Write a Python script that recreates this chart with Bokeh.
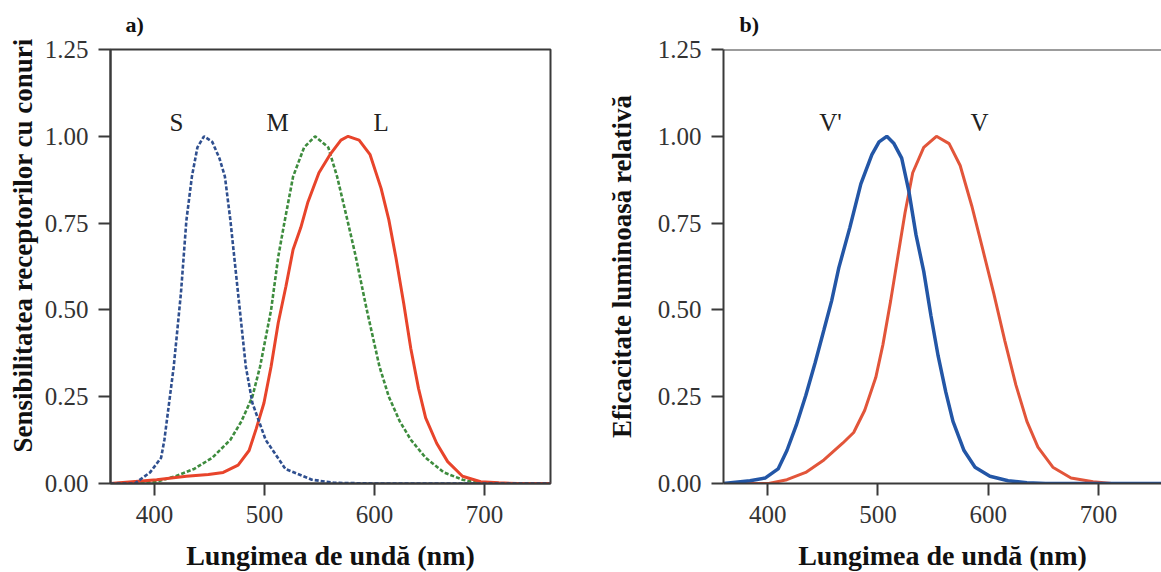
from bokeh.plotting import figure
from bokeh.layouts import row
from bokeh.models import Range1d, FixedTicker, Title, Span, ColumnDataSource
from bokeh.core.properties import value
from bokeh.embed import file_html
from bokeh.resources import INLINE

# ---------------- data ----------------
wl_ticks = [400, 500, 600, 700]
y_ticks = [0.0, 0.25, 0.5, 0.75, 1.0, 1.25]
y_tick_labels = ["0.00", "0.25", "0.50", "0.75", "1.00", "1.25"]

# panel a) cone sensitivities
s_nm = [360, 382, 396, 406, 409, 417.5, 424, 429, 434, 439, 445, 452.5, 459, 464, 469, 476, 483, 489, 501, 519, 543, 563, 600, 700, 760]
s_val = [0, 0, 0.032, 0.074, 0.126, 0.337, 0.547, 0.758, 0.884, 0.968, 1.0, 0.984, 0.937, 0.884, 0.758, 0.547, 0.337, 0.232, 0.126, 0.042, 0.011, 0.002, 0, 0, 0]

m_nm = [360, 402, 419, 436, 452.5, 469, 479, 489, 496, 506, 512.5, 518, 526, 536, 546, 558, 566, 576, 583, 593, 604.5, 613, 623, 633, 646.5, 663, 680, 697, 760]
m_val = [0, 0.005, 0.021, 0.042, 0.074, 0.126, 0.179, 0.25, 0.337, 0.5, 0.653, 0.75, 0.884, 0.968, 1.0, 0.968, 0.884, 0.75, 0.653, 0.5, 0.337, 0.25, 0.179, 0.126, 0.074, 0.032, 0.011, 0.0, 0]

l_nm = [360, 402, 429, 449, 462.5, 476, 486, 492.5, 499.5, 506, 512.5, 519.5, 526, 533, 539.5, 549.5, 559.5, 569.5, 576, 586, 596, 606, 613, 619.5, 626.5, 633, 640, 646.5, 656.5, 666.5, 680, 696.5, 713, 730, 760]
l_val = [0, 0.011, 0.021, 0.026, 0.032, 0.053, 0.095, 0.158, 0.232, 0.337, 0.463, 0.568, 0.674, 0.737, 0.811, 0.895, 0.947, 0.989, 1.0, 0.989, 0.947, 0.85, 0.76, 0.65, 0.52, 0.389, 0.274, 0.189, 0.116, 0.063, 0.021, 0.005, 0.002, 0, 0]

a_label_text = ["S", "M", "L"]
a_label_nm = [420, 512, 606]
a_label_val = [1.04, 1.04, 1.04]

# panel b) luminous efficiency
vp_nm = [360, 384, 398, 409.5, 417.5, 426, 434.5, 443, 451, 458, 464.5, 474.5, 484.5, 494.5, 501, 508, 514.5, 521.5, 528, 534.5, 541.5, 548, 554.5, 561.5, 568, 578, 588, 601.5, 618, 635, 652, 760]
vp_val = [0, 0.008, 0.016, 0.042, 0.095, 0.168, 0.253, 0.347, 0.442, 0.526, 0.621, 0.737, 0.863, 0.947, 0.984, 1.0, 0.979, 0.937, 0.842, 0.716, 0.611, 0.484, 0.368, 0.263, 0.179, 0.095, 0.047, 0.021, 0.008, 0.002, 0, 0]

v_nm = [360, 401, 417.5, 434.5, 451, 468, 478, 488, 498, 504.5, 511.5, 518, 524.5, 531.5, 541.5, 553, 564.5, 574.5, 585, 595, 605, 615, 625, 635, 645, 658.5, 675, 695, 712, 760]
v_val = [0, 0, 0.011, 0.032, 0.068, 0.116, 0.147, 0.211, 0.305, 0.4, 0.526, 0.653, 0.779, 0.895, 0.968, 1.0, 0.979, 0.916, 0.8, 0.674, 0.547, 0.411, 0.284, 0.179, 0.105, 0.047, 0.016, 0.005, 0, 0]

b_label_text = ["V'", "V"]
b_label_nm = [457, 592]
b_label_val = [1.04, 1.04]

panel_a_tag = "a)"
panel_b_tag = "b)"
x_label = "Lungimea de undă (nm)"
a_ylabel = "Sensibilitatea receptorilor cu conuri"
b_ylabel = "Eficacitate luminoasă relativă"

FONT = "Liberation Serif"
AXC = "#3a3a3a"


def style(p):
    p.xaxis.ticker = FixedTicker(ticks=wl_ticks)
    p.yaxis.ticker = FixedTicker(ticks=y_ticks)
    p.yaxis.major_label_overrides = {t: s for t, s in zip(y_ticks, y_tick_labels)}
    for ax in p.axis:
        ax.axis_line_color = AXC
        ax.axis_line_width = 2
        ax.major_tick_line_color = AXC
        ax.major_tick_line_width = 2
        ax.major_tick_in = 0
        ax.major_tick_out = 12
        ax.minor_tick_line_color = None
        ax.major_label_text_font = FONT
        ax.major_label_text_font_size = "25px"
        ax.major_label_text_color = "#333333"
        ax.axis_label_text_font = FONT
        ax.axis_label_text_font_size = "27px"
        ax.axis_label_text_font_style = "bold"
        ax.axis_label_text_color = "#111111"
    p.yaxis.major_label_standoff = 10
    p.xaxis.axis_label = x_label
    p.xaxis.major_label_standoff = 10
    p.xaxis.axis_label_standoff = 14
    p.xaxis.axis_label_text_font_size = "28px"
    p.xgrid.visible = False
    p.ygrid.visible = False
    p.background_fill_color = "white"
    p.border_fill_color = "white"
    p.title.text_font = FONT
    p.title.text_font_size = "22px"
    p.title.text_font_style = "bold"
    p.title.text_color = "#111111"
    p.title.align = "left"
    p.title.vertical_align = "top"
    p.title.standoff = 22


def curve_labels(p, xs, ys, texts):
    src = ColumnDataSource(dict(x=xs, y=ys, t=texts))
    p.text(x="x", y="y", text="t", source=src, text_font=value(FONT),
           text_font_size="25px", text_color="#222222",
           text_align="center", text_baseline="middle")


# ---------------- panel a ----------------
pa = figure(title=panel_a_tag, frame_width=440, frame_height=434,
            x_range=Range1d(360, 760), y_range=Range1d(0, 1.25),
            min_border_left=110, min_border_right=30, min_border_top=49,
            min_border_bottom=89, output_backend="svg", toolbar_location=None)
style(pa)
pa.title.offset = 15
pa.outline_line_color = AXC
pa.outline_line_width = 2
pa.line(m_nm, m_val, line_color="#3e8c3e", line_width=2.6, line_dash="4 2")
pa.line(l_nm, l_val, line_color="#e8442b", line_width=3)
pa.line(s_nm, s_val, line_color="#2f4f8f", line_width=2.6, line_dash="4 2")
curve_labels(pa, a_label_nm, a_label_val, a_label_text)
pa.add_layout(Title(text=a_ylabel, align="left", offset=31, standoff=8,
                    text_font=FONT, text_font_size="27px", text_font_style="bold",
                    text_color="#111111"), "left")

# ---------------- panel b ----------------
pb = figure(title=panel_b_tag, frame_width=438, frame_height=434,
            x_range=Range1d(360, 757), y_range=Range1d(0, 1.25),
            min_border_left=143, min_border_right=0, min_border_top=49,
            min_border_bottom=89, output_backend="svg", toolbar_location=None)
style(pb)
pb.title.offset = 16
pb.outline_line_color = None
pb.yaxis.axis_label = b_ylabel
pb.yaxis.axis_label_standoff = 18
pb.add_layout(Span(location=1.25, dimension="width", line_color=AXC, line_width=2))
pb.line(v_nm, v_val, line_color="#e2553a", line_width=3)
pb.line(vp_nm, vp_val, line_color="#2356a6", line_width=3.5)
curve_labels(pb, b_label_nm, b_label_val, b_label_text)

layout = row(pa, pb)
open("out.html", "w").write(file_html(layout, INLINE))
